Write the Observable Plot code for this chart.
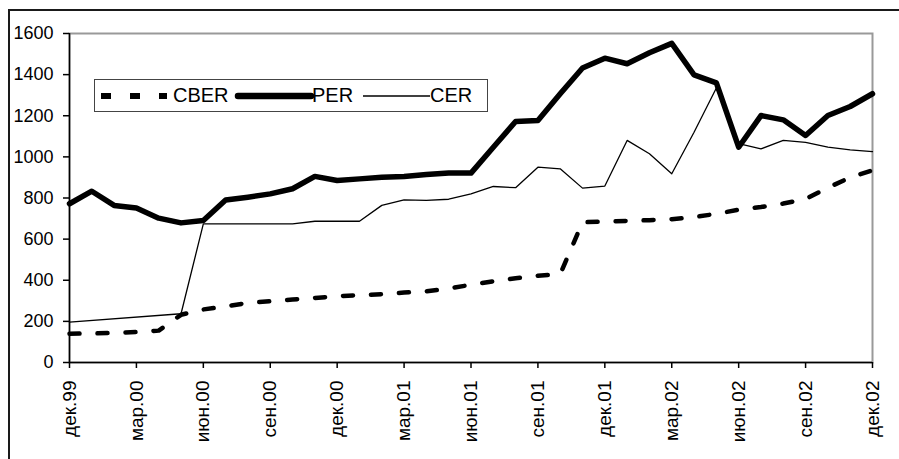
<!DOCTYPE html>
<html>
<head>
<meta charset="utf-8">
<script src="https://cdn.jsdelivr.net/npm/d3@7"></script>
<script src="https://cdn.jsdelivr.net/npm/@observablehq/plot@0.6"></script>
<style>
  html, body { margin: 0; padding: 0; background: #fff; }
  #wrap { position: relative; width: 899px; height: 459px; overflow: hidden; background: #fff; font-family: "Liberation Sans", Arial, sans-serif; }
  #outer { position: absolute; left: 8px; top: 9px; width: 920px; height: 480px; border-left: 2px solid #1a1a1a; border-top: 2px solid #1a1a1a; box-sizing: border-box; pointer-events: none; }
  #legend { position: absolute; left: 94px; top: 79px; width: 394px; height: 33px; border: 1.5px solid #444; box-sizing: border-box; background: #fff; }
  #legend .sw { position: absolute; top: 0; }
  #legend .lb { position: absolute; top: 5px; font-size: 20px; line-height: 20px; color: #000; }
</style>
</head>
<body>
<div id="wrap">
  <div id="chart"></div>
  <div id="outer"></div>
  <div id="legend"></div>
</div>
<script>
const categories = ["дек.99","янв.00","фев.00","мар.00","апр.00","май.00","июн.00","июл.00","авг.00","сен.00","окт.00","ноя.00",
  "дек.00","янв.01","фев.01","мар.01","апр.01","май.01","июн.01","июл.01","авг.01","сен.01","окт.01","ноя.01",
  "дек.01","янв.02","фев.02","мар.02","апр.02","май.02","июн.02","июл.02","авг.02","сен.02","окт.02","ноя.02","дек.02"];
const tickLabels = ["дек.99","мар.00","июн.00","сен.00","дек.00","мар.01","июн.01","сен.01","дек.01","мар.02","июн.02","сен.02","дек.02"];
const yTicks = [0, 200, 400, 600, 800, 1000, 1200, 1400, 1600];
const seriesNames = ["CBER", "PER", "CER"];

const cber = [140,141,144,148,155,232,258,273,290,298,306,314,322,328,332,340,346,360,378,395,410,422,430,682,685,689,692,697,707,723,743,756,773,795,850,900,935];
const per  = [772,833,764,751,702,679,691,790,804,820,845,905,885,893,901,905,914,921,921,1047,1172,1177,1307,1432,1480,1453,1506,1552,1399,1360,1047,1201,1180,1104,1201,1245,1307];
const cer  = [196,null,null,null,null,237,674,674,674,674,674,687,687,687,764,791,788,794,820,856,850,950,942,848,858,1080,1015,918,1120,1335,1064,1039,1080,1071,1047,1034,1026];

const rows = vals => categories.map((c, i) => ({month: c, value: vals[i]})).filter(d => d.value != null);

const styles = {
  CBER: {stroke: "#000", strokeWidth: 4.5, strokeDasharray: "10,18"},
  PER:  {stroke: "#000", strokeWidth: 5.5, strokeLinejoin: "round", strokeLinecap: "round"},
  CER:  {stroke: "#000", strokeWidth: 1.3}
};

const chart = Plot.plot({
  width: 899,
  height: 459,
  marginLeft: 69,
  marginRight: 27,
  marginTop: 33,
  marginBottom: 97,
  style: {fontFamily: "'Liberation Sans', Arial, sans-serif", fontSize: "18px", color: "#000", background: "transparent", overflow: "visible"},
  x: {type: "point", domain: categories, padding: 0, round: false},
  y: {domain: [0, 1600]},
  marks: [
    Plot.frame({stroke: "#999", strokeWidth: 2}),
    Plot.axisY({ticks: yTicks, tickFormat: d => String(d), tickSize: 6, tickPadding: 10, label: null, fontSize: 18, strokeWidth: 1.5}),
    Plot.axisX({ticks: tickLabels, tickSize: 6, tickPadding: 12, tickRotate: -90, label: null, fontSize: 19, strokeWidth: 1.5}),
    Plot.ruleY([0], {stroke: "#000", strokeWidth: 1.5}),
    Plot.ruleX([categories[0]], {stroke: "#000", strokeWidth: 1.5}),
    Plot.line(rows(cer), {x: "month", y: "value", ...styles.CER}),
    Plot.line(rows(cber), {x: "month", y: "value", ...styles.CBER}),
    Plot.line(rows(per), {x: "month", y: "value", ...styles.PER})
  ]
});
document.getElementById("chart").appendChild(chart);

// legend
const legend = document.getElementById("legend");
const legendLayout = [
  {name: "CBER", sx: 6, sw: 66, tx: 78},
  {name: "PER", sx: 143, sw: 73, tx: 217},
  {name: "CER", sx: 268, sw: 67, tx: 335}
];
legendLayout.forEach(item => {
  const s = styles[item.name];
  const svg = d3.create("svg").attr("class", "sw").attr("width", item.sw + 8).attr("height", 30)
    .style("left", (item.sx - 4) + "px");
  svg.append("line").attr("x1", 4).attr("x2", item.sw + 4).attr("y1", 16).attr("y2", 16)
    .attr("stroke", s.stroke).attr("stroke-width", item.name === "CBER" ? 6 : item.name === "PER" ? 6.5 : 1.3)
    .attr("stroke-dasharray", item.name === "CBER" ? "10,19" : null)
    .attr("stroke-linecap", item.name === "PER" ? "round" : "butt");
  legend.appendChild(svg.node());
  const t = document.createElement("span");
  t.className = "lb";
  t.style.left = item.tx + "px";
  t.textContent = item.name;
  legend.appendChild(t);
});
</script>
</body>
</html>
